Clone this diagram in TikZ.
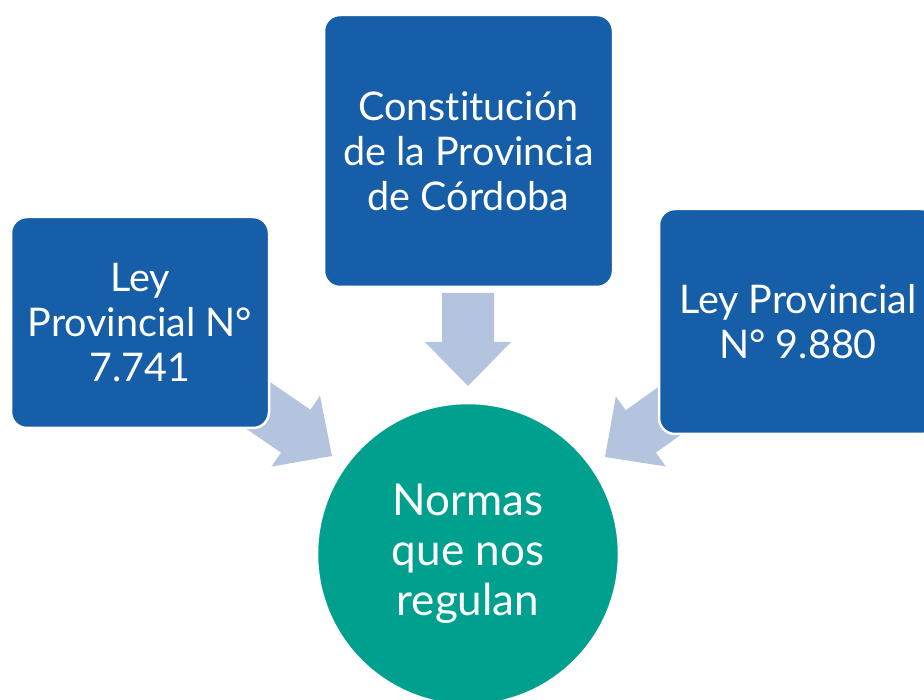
\documentclass[tikz,border=0pt]{standalone}
\usepackage{fontspec}
\setmainfont{Lato}[Ligatures=NoCommon]
\definecolor{boxblue}{RGB}{22,94,167}
\definecolor{circteal}{RGB}{0,160,142}
\definecolor{arrowgray}{RGB}{180,196,222}
\begin{document}
\begin{tikzpicture}[x=1pt,y=-1pt,
  box/.style={rectangle, rounded corners=16pt, fill=boxblue, draw=white,
    line width=2.5pt, text=white, align=center, inner sep=0pt,
    font=\fontsize{39.5}{45}\selectfont},
  circ/.style={circle, fill=circteal, draw=white, line width=2.5pt,
    text=white, align=center, inner sep=0pt, minimum size=302pt,
    font=\fontsize{44}{50}\selectfont},
  barrow/.pic={\fill[arrowgray] (0,0) -- (-44,43) -- (-44,26) -- (-93,26)
    -- (-93,-26) -- (-44,-26) -- (-44,-43) -- cycle;}]
\useasboundingbox (0,0) rectangle (924,700);
\clip (0,0) rectangle (924,700);
\fill[white] (0,0) rectangle (924,700);
% block arrows
\coordinate (tipL) at (332,456);
\coordinate (tipC) at (468,386);
\coordinate (tipR) at (605,457);
\pic[rotate=-34.4] at (tipL) {barrow};
\pic[rotate=-90] at (tipC) {barrow};
\pic[rotate=-144.5] at (tipR) {barrow};
% boxes
\node[box, minimum width=258pt, minimum height=211pt] (ley7741) at (140,322.5)
  {Ley\\Provincial N°\\7.741};
\node[box, minimum width=289pt, minimum height=272pt] (const) at (468.5,151)
  {Constitución\\de la Provincia\\de Córdoba};
\node[box, minimum width=278pt, minimum height=225pt] (ley9880) at (798,321.5)
  {Ley Provincial\\N° 9.880};
% circle
\node[circ] (normas) at (468,554) {Normas\\que nos\\regulan};
\end{tikzpicture}
\end{document}
